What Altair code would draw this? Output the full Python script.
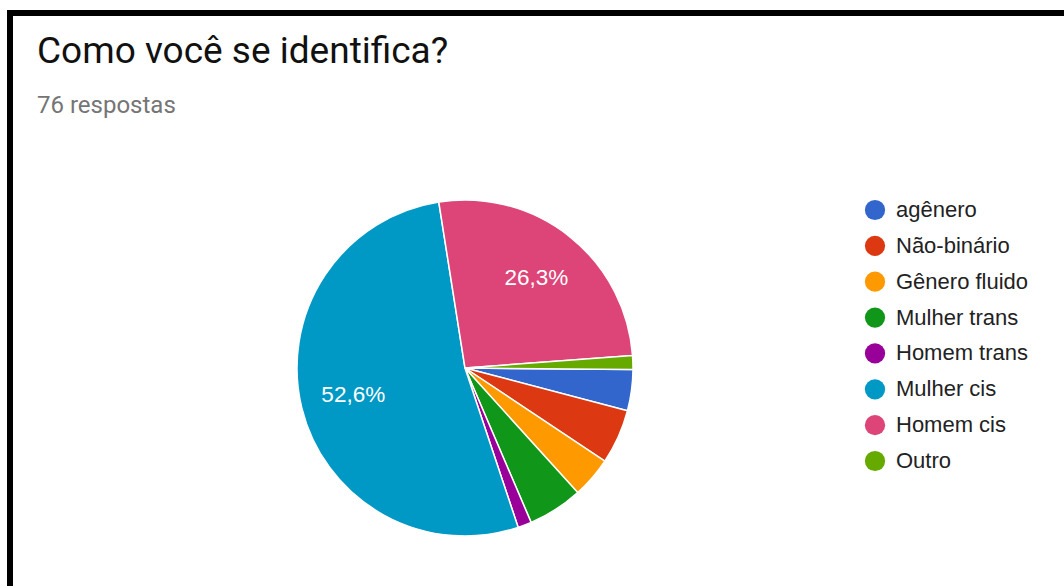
import math
import altair as alt
import pandas as pd

categories = ["agênero", "Não-binário", "Gênero fluido", "Mulher trans",
              "Homem trans", "Mulher cis", "Homem cis", "Outro"]
counts = [3, 4, 3, 4, 1, 40, 20, 1]
colors = ["#3366cc", "#dc3912", "#ff9900", "#109618",
          "#990099", "#0099c6", "#dd4477", "#66aa00"]
title_text = "Como você se identifica?"
subtitle_text = "76 respostas"

total = sum(counts)
df = pd.DataFrame({"cat": categories, "n": counts, "idx": list(range(len(categories)))})
df["label"] = [
    (f"{v / total * 100:.1f}".replace(".", ",") + "%") if v / total > 0.1 else ""
    for v in counts
]

W, H = 1064, 586
cx, cy, R = 465, 368, 168
start = math.radians(90.5)

color_scale = alt.Scale(domain=categories, range=colors)
theta_scale = alt.Scale(range=[start, start + 2 * math.pi])

base = alt.Chart(df)

pie = base.mark_arc(outerRadius=R, stroke="white", strokeWidth=1.5).encode(
    theta=alt.Theta("n:Q", stack=True, scale=theta_scale),
    color=alt.Color("cat:N", scale=color_scale, legend=None),
    order=alt.Order("idx:Q"),
    x=alt.value(cx),
    y=alt.value(cy),
)

pct = base.mark_text(font="Liberation Sans", fontSize=22.5, color="white",
                     align="center", baseline="middle").encode(
    theta=alt.Theta("n:Q", stack=True, scale=theta_scale),
    radius=alt.value(115),
    order=alt.Order("idx:Q"),
    text="label:N",
    x=alt.value(cx),
    y=alt.value(cy),
)

leg_y = alt.Y("cat:N", sort=categories, axis=None,
              scale=alt.Scale(type="point", range=[210, 461], padding=0))

leg_dots = base.mark_circle(size=410, opacity=1).encode(
    x=alt.value(875),
    y=leg_y,
    color=alt.Color("cat:N", scale=color_scale, legend=None),
)

leg_text = base.mark_text(font="Liberation Sans", fontSize=22, color="#222222",
                          align="left", baseline="middle").encode(
    x=alt.value(896),
    y=leg_y,
    text="cat:N",
)

one = alt.Chart(pd.DataFrame({"t": [title_text], "s": [subtitle_text]}))

title = one.mark_text(font="Roboto", fontSize=37, color="#111111",
                      align="left", baseline="alphabetic").encode(
    x=alt.value(37), y=alt.value(63), text="t:N")

subtitle = one.mark_text(font="Roboto", fontSize=24, color="#757575",
                         align="left", baseline="alphabetic").encode(
    x=alt.value(37), y=alt.value(113), text="s:N")

frame_top = one.mark_rule(color="black", strokeWidth=6).encode(
    x=alt.value(7), x2=alt.value(W), y=alt.value(13))
frame_left = one.mark_rule(color="black", strokeWidth=6).encode(
    x=alt.value(10), y=alt.value(10), y2=alt.value(H))

chart = alt.layer(
    pie, pct, leg_dots, leg_text, title, subtitle, frame_top, frame_left
).properties(
    width=W, height=H, padding=0, autosize=alt.AutoSizeParams(type="none"),
    background="white"
).configure_view(stroke=None)

chart.save("out.html", embed_options={"renderer": "svg", "actions": False})
